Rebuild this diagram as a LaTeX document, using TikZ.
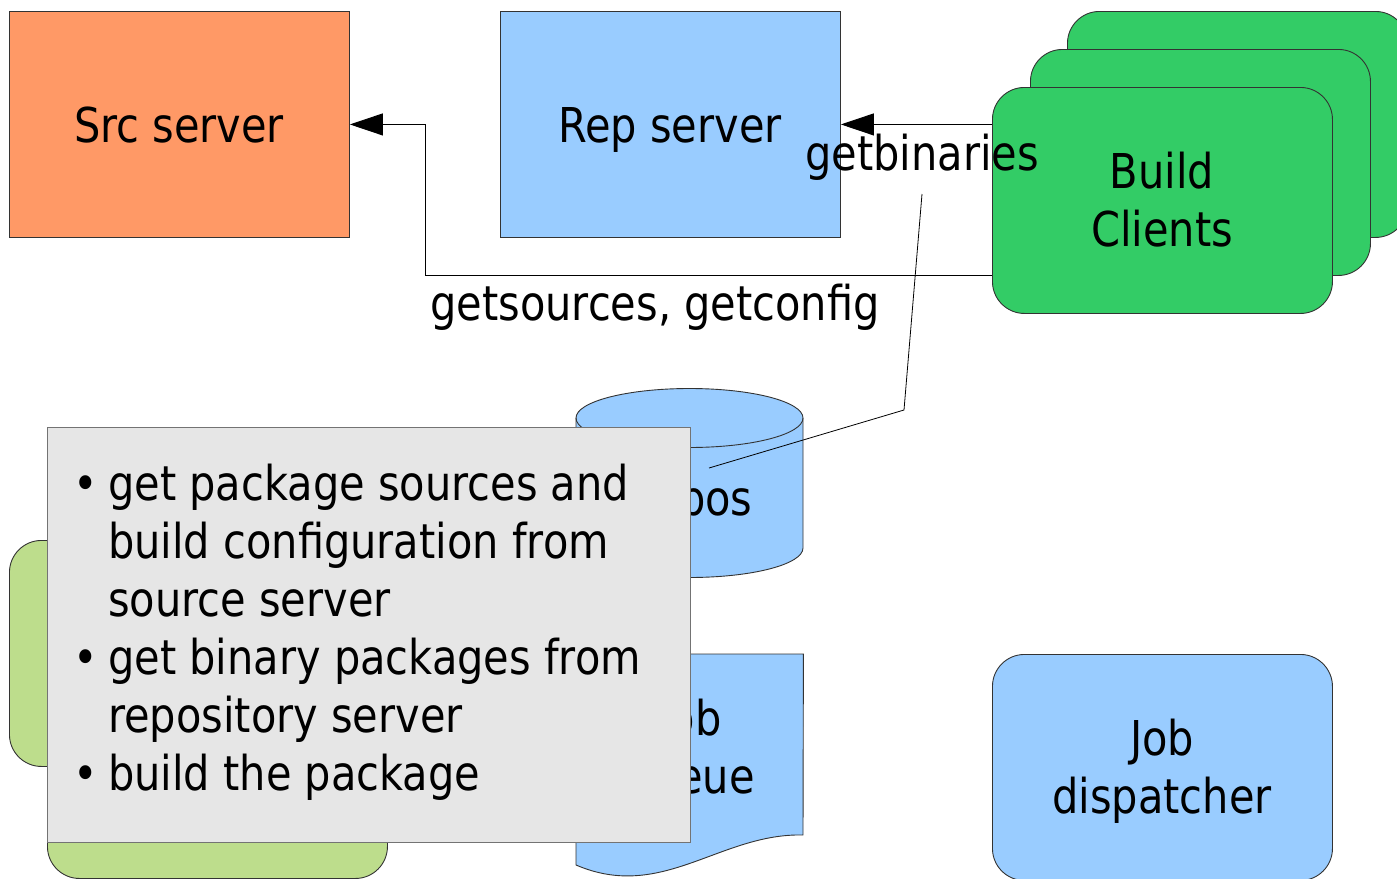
\documentclass[tikz,border=0pt]{standalone}
\usepackage{fontspec}
\setmainfont{DejaVu Sans}[FakeStretch=0.865]
\usetikzlibrary{arrows.meta}

\definecolor{srcorange}{HTML}{FF9966}
\definecolor{repblue}{HTML}{99CCFF}
\definecolor{clientgreen}{HTML}{33CC66}
\definecolor{palegreen}{HTML}{BDDD8C}
\definecolor{notegray}{HTML}{E6E6E6}
\definecolor{edge}{HTML}{333333}

\begin{document}
\begin{tikzpicture}[x=1pt,y=-1pt,
  box/.style={draw=edge,line width=0.9pt,minimum width=340pt,minimum height=226pt,
              inner sep=0pt,anchor=north west},
  roundbox/.style={box,rounded corners=32pt},
  shapefill/.style={draw=edge,line width=0.9pt},
  lbl/.style={font=\fontsize{48}{58}\selectfont,inner sep=0pt,anchor=base,align=center},
  link/.style={draw=black,line width=0.9pt},
  arr/.style={link,-{Triangle[length=33pt,width=22pt]}},
]
\useasboundingbox (0,0) rectangle (1397,878);

% servers
\node[box,fill=srcorange] (src) at (9,11) {};
\node[box,fill=repblue]   (rep) at (500,11) {};
\node[lbl] (srcT) at (179,142) {Src server};
\node[lbl] (repT) at (670,142) {Rep server};

% requests issued by the build clients
\coordinate (turn) at (425,275);
\node[roundbox,fill=clientgreen,draw=none] (bc1) at (992,87) {};
\draw[arr] (bc1.west |- rep.east) -- (rep.east);
\draw[arr] (bc1.west |- turn) -- (turn) |- (src.east);

% stack of build clients
\node[roundbox,fill=clientgreen] (bc3) at (1067,11) {};
\node[roundbox,fill=clientgreen] (bc2) at (1030,49) {};
\node[roundbox,fill=clientgreen] (bc1f) at (992,87) {};
\node[lbl] (bcT) at (1162,246) {Build\\Clients};

\node[lbl] (getbin) at (922,170) {getbinaries};
\node[lbl] (getsrc) at (655,320) {getsources, getconfig};

% repository storage
\node[inner sep=0pt,minimum width=227pt,minimum height=189pt,anchor=north west] (repos) at (576,389) {};
\path[shapefill,fill=repblue]
  (576,418) -- (576,548) arc[start angle=180,end angle=360,x radius=113.5pt,y radius=29.5pt]
  -- (803,418) arc[start angle=0,end angle=180,x radius=113.5pt,y radius=29.5pt] -- cycle;
\draw[shapefill] (576,418) arc[start angle=180,end angle=360,x radius=113.5pt,y radius=29.5pt];
\node[lbl] (reposT) at (689.5,515) {Repos};

% pointer to the repository
\coordinate (k1) at (922,194);
\coordinate (k2) at (904,410);
\coordinate (k3) at (709,468);
\draw[line width=0.8pt] (k1) -- (k2) -- (k3);

% job queue document
\node[inner sep=0pt,minimum width=227pt,minimum height=224pt,anchor=north west] (jobq) at (576,654) {};
\path[shapefill,fill=repblue]
  (jobq.north west) -- (jobq.north east) -- (803,835)
  .. controls (720,833) and (662,902) .. (576,865) -- cycle;
\node[lbl] (jobqT) at (689.5,793) {Job\\queue};

% dispatcher
\node[roundbox,fill=repblue] (disp) at (992,654) {};
\node[lbl] (dispT) at (1162,813) {Job\\dispatcher};

% pale green stack
\node[roundbox,fill=palegreen] (gn2) at (9,540) {};
\node[roundbox,fill=palegreen] (gn1) at (47,652) {};

% explanatory note
\node[draw=black!55,line width=0.9pt,fill=notegray,minimum width=643pt,minimum height=415pt,
      inner sep=0pt,anchor=north west] (note) at (47,427) {};
\node[font=\fontsize{48}{58}\selectfont,inner sep=0pt,anchor=base west] (noteT) at (73,500)
{\begin{tabular}[t]{@{}l@{}l@{}}
 \makebox[35pt][l]{•} & get package sources and\\
                      & build configuration from\\
                      & source server\\
 \makebox[35pt][l]{•} & get binary packages from\\
                      & repository server\\
 \makebox[35pt][l]{•} & build the package
 \end{tabular}};
\end{tikzpicture}
\end{document}
